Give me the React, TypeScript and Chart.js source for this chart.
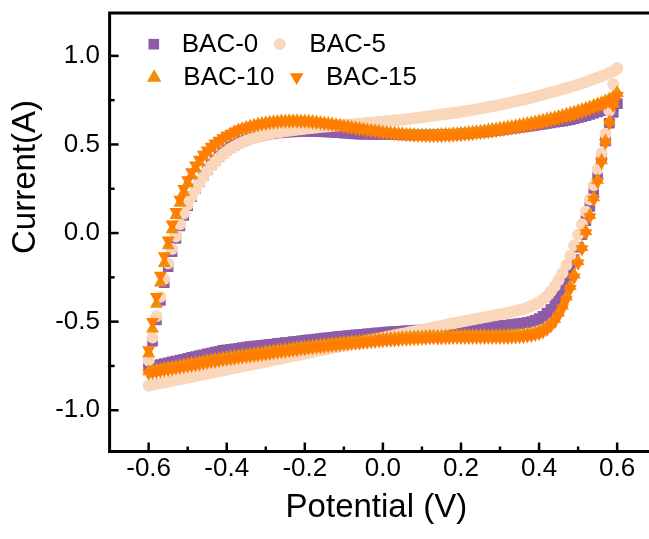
import React, { useEffect, useRef } from 'react';
import { Chart, registerables } from 'chart.js';

Chart.register(...registerables);

// Potential grid (V), forward sweep order: -0.60 ... 0.60 in 0.01 V steps
const POTENTIAL = [
  -0.60, -0.59, -0.58, -0.57, -0.56, -0.55, -0.54, -0.53, -0.52, -0.51,
  -0.50, -0.49, -0.48, -0.47, -0.46, -0.45, -0.44, -0.43, -0.42, -0.41,
  -0.40, -0.39, -0.38, -0.37, -0.36, -0.35, -0.34, -0.33, -0.32, -0.31,
  -0.30, -0.29, -0.28, -0.27, -0.26, -0.25, -0.24, -0.23, -0.22, -0.21,
  -0.20, -0.19, -0.18, -0.17, -0.16, -0.15, -0.14, -0.13, -0.12, -0.11,
  -0.10, -0.09, -0.08, -0.07, -0.06, -0.05, -0.04, -0.03, -0.02, -0.01,
  0.00, 0.01, 0.02, 0.03, 0.04, 0.05, 0.06, 0.07, 0.08, 0.09,
  0.10, 0.11, 0.12, 0.13, 0.14, 0.15, 0.16, 0.17, 0.18, 0.19,
  0.20, 0.21, 0.22, 0.23, 0.24, 0.25, 0.26, 0.27, 0.28, 0.29,
  0.30, 0.31, 0.32, 0.33, 0.34, 0.35, 0.36, 0.37, 0.38, 0.39,
  0.40, 0.41, 0.42, 0.43, 0.44, 0.45, 0.46, 0.47, 0.48, 0.49,
  0.50, 0.51, 0.52, 0.53, 0.54, 0.55, 0.56, 0.57, 0.58, 0.59,
  0.60,
];

// Current (A). *_FWD follows POTENTIAL ascending; *_REV runs from +0.60 V back to -0.60 V.
const BAC0_FWD = [
  -0.73, -0.61, -0.49, -0.38, -0.28, -0.19, -0.105, -0.03, 0.04, 0.10,
  0.155, 0.205, 0.25, 0.29, 0.326, 0.358, 0.386, 0.411, 0.433, 0.452,
  0.469, 0.484, 0.497, 0.508, 0.518, 0.526, 0.534, 0.540, 0.546, 0.551,
  0.555, 0.559, 0.562, 0.565, 0.567, 0.569, 0.570, 0.571, 0.572, 0.573,
  0.573, 0.573, 0.573, 0.573, 0.572, 0.571, 0.570, 0.569, 0.567, 0.566,
  0.564, 0.563, 0.561, 0.560, 0.558, 0.558, 0.558, 0.558, 0.557, 0.557,
  0.556, 0.556, 0.555, 0.555, 0.555, 0.554, 0.554, 0.554, 0.553, 0.553,
  0.553, 0.553, 0.553, 0.553, 0.554, 0.554, 0.555, 0.556, 0.557, 0.558,
  0.560, 0.561, 0.563, 0.565, 0.567, 0.569, 0.571, 0.573, 0.576, 0.578,
  0.581, 0.584, 0.587, 0.590, 0.593, 0.596, 0.599, 0.602, 0.605, 0.608,
  0.612, 0.615, 0.618, 0.621, 0.625, 0.628, 0.632, 0.636, 0.640, 0.645,
  0.651, 0.657, 0.663, 0.669, 0.676, 0.683, 0.69, 0.698, 0.706, 0.715,
  0.73,
];
const BAC0_REV = [
  0.73, 0.68, 0.62, 0.52, 0.42, 0.33, 0.24, 0.15, 0.07, -0.01,
  -0.08, -0.15, -0.21, -0.27, -0.32, -0.365, -0.40, -0.43, -0.452, -0.47,
  -0.483, -0.492, -0.499, -0.504, -0.508, -0.511, -0.514, -0.517, -0.519, -0.521,
  -0.523, -0.525, -0.527, -0.529, -0.530, -0.532, -0.533, -0.534, -0.535, -0.536,
  -0.537, -0.538, -0.539, -0.540, -0.541, -0.542, -0.543, -0.544, -0.545, -0.546,
  -0.547, -0.548, -0.549, -0.550, -0.552, -0.553, -0.555, -0.556, -0.558, -0.559,
  -0.561, -0.563, -0.565, -0.567, -0.569, -0.571, -0.573, -0.575, -0.577, -0.579,
  -0.581, -0.583, -0.586, -0.588, -0.591, -0.593, -0.596, -0.598, -0.601, -0.603,
  -0.606, -0.608, -0.611, -0.613, -0.616, -0.618, -0.621, -0.623, -0.626, -0.628,
  -0.631, -0.633, -0.636, -0.638, -0.641, -0.644, -0.647, -0.650, -0.653, -0.656,
  -0.659, -0.662, -0.667, -0.672, -0.677, -0.682, -0.687, -0.692, -0.697, -0.702,
  -0.707, -0.712, -0.717, -0.722, -0.727, -0.732, -0.737, -0.742, -0.747, -0.752,
  -0.757,
];

const BAC5_FWD = [
  -0.72, -0.59, -0.47, -0.36, -0.26, -0.17, -0.09, -0.02, 0.05, 0.11,
  0.16, 0.205, 0.245, 0.283, 0.318, 0.35, 0.378, 0.403, 0.425, 0.445,
  0.462, 0.477, 0.490, 0.502, 0.512, 0.521, 0.530, 0.537, 0.544, 0.550,
  0.555, 0.560, 0.564, 0.568, 0.571, 0.574, 0.577, 0.580, 0.583, 0.586,
  0.588, 0.591, 0.593, 0.596, 0.598, 0.600, 0.602, 0.604, 0.606, 0.608,
  0.610, 0.612, 0.614, 0.616, 0.618, 0.620, 0.622, 0.624, 0.626, 0.628,
  0.630, 0.632, 0.634, 0.636, 0.638, 0.640, 0.643, 0.645, 0.648, 0.651,
  0.654, 0.657, 0.660, 0.663, 0.666, 0.669, 0.672, 0.675, 0.678, 0.681,
  0.685, 0.688, 0.692, 0.695, 0.699, 0.703, 0.707, 0.711, 0.715, 0.719,
  0.724, 0.728, 0.733, 0.738, 0.743, 0.748, 0.753, 0.758, 0.764, 0.769,
  0.775, 0.781, 0.787, 0.793, 0.799, 0.805, 0.811, 0.818, 0.825, 0.832,
  0.839, 0.846, 0.853, 0.861, 0.869, 0.877, 0.885, 0.894, 0.903, 0.913,
  0.93,
];
const BAC5_REV = [
  0.93, 0.84, 0.69, 0.56, 0.45, 0.36, 0.27, 0.19, 0.12, 0.05,
  -0.01, -0.07, -0.13, -0.18, -0.225, -0.265, -0.30, -0.33, -0.355, -0.375,
  -0.39, -0.402, -0.412, -0.420, -0.428, -0.434, -0.440, -0.445, -0.450, -0.455,
  -0.459, -0.463, -0.467, -0.471, -0.475, -0.480, -0.484, -0.488, -0.492, -0.497,
  -0.501, -0.505, -0.510, -0.514, -0.519, -0.523, -0.528, -0.532, -0.537, -0.541,
  -0.546, -0.550, -0.555, -0.559, -0.564, -0.568, -0.573, -0.577, -0.582, -0.586,
  -0.591, -0.595, -0.600, -0.604, -0.609, -0.613, -0.618, -0.622, -0.627, -0.631,
  -0.636, -0.640, -0.645, -0.649, -0.654, -0.658, -0.663, -0.667, -0.672, -0.676,
  -0.681, -0.685, -0.690, -0.694, -0.699, -0.703, -0.708, -0.712, -0.717, -0.721,
  -0.726, -0.730, -0.735, -0.739, -0.744, -0.748, -0.753, -0.757, -0.762, -0.766,
  -0.771, -0.776, -0.78, -0.785, -0.789, -0.794, -0.798, -0.803, -0.807, -0.812,
  -0.816, -0.821, -0.825, -0.83, -0.834, -0.839, -0.843, -0.848, -0.852, -0.857,
  -0.862,
];

const BAC10_FWD = [
  -0.68, -0.54, -0.40, -0.28, -0.17, -0.07, 0.02, 0.10, 0.17, 0.23,
  0.28, 0.325, 0.365, 0.40, 0.43, 0.455, 0.478, 0.498, 0.515, 0.533,
  0.547, 0.560, 0.572, 0.581, 0.589, 0.596, 0.603, 0.609, 0.614, 0.618,
  0.622, 0.625, 0.628, 0.630, 0.632, 0.633, 0.634, 0.634, 0.634, 0.633,
  0.632, 0.631, 0.629, 0.627, 0.624, 0.621, 0.618, 0.615, 0.611, 0.608,
  0.604, 0.601, 0.597, 0.594, 0.590, 0.587, 0.583, 0.580, 0.577, 0.574,
  0.571, 0.568, 0.566, 0.564, 0.562, 0.560, 0.558, 0.557, 0.556, 0.555,
  0.554, 0.554, 0.554, 0.554, 0.555, 0.556, 0.557, 0.558, 0.560, 0.561,
  0.563, 0.565, 0.567, 0.570, 0.572, 0.575, 0.578, 0.581, 0.584, 0.587,
  0.591, 0.594, 0.598, 0.602, 0.606, 0.610, 0.614, 0.618, 0.623, 0.627,
  0.632, 0.637, 0.642, 0.647, 0.652, 0.658, 0.664, 0.67, 0.676, 0.683,
  0.69, 0.697, 0.704, 0.712, 0.72, 0.728, 0.737, 0.746, 0.756, 0.768,
  0.79,
];
const BAC10_REV = [
  0.79, 0.73, 0.63, 0.52, 0.41, 0.30, 0.20, 0.10, 0.01, -0.08,
  -0.16, -0.235, -0.30, -0.36, -0.41, -0.45, -0.485, -0.51, -0.53, -0.544,
  -0.554, -0.561, -0.566, -0.569, -0.572, -0.574, -0.575, -0.576, -0.577, -0.578,
  -0.578, -0.578, -0.579, -0.579, -0.579, -0.579, -0.579, -0.579, -0.579, -0.579,
  -0.579, -0.580, -0.580, -0.581, -0.581, -0.582, -0.582, -0.583, -0.583, -0.584,
  -0.585, -0.586, -0.587, -0.588, -0.589, -0.590, -0.592, -0.593, -0.595, -0.596,
  -0.598, -0.600, -0.602, -0.604, -0.606, -0.608, -0.610, -0.612, -0.614, -0.616,
  -0.618, -0.620, -0.623, -0.625, -0.628, -0.630, -0.633, -0.635, -0.638, -0.640,
  -0.643, -0.645, -0.648, -0.651, -0.654, -0.657, -0.660, -0.663, -0.666, -0.669,
  -0.672, -0.675, -0.678, -0.681, -0.684, -0.687, -0.690, -0.693, -0.696, -0.699,
  -0.702, -0.705, -0.709, -0.713, -0.717, -0.721, -0.725, -0.729, -0.733, -0.737,
  -0.741, -0.745, -0.749, -0.753, -0.757, -0.761, -0.765, -0.769, -0.773, -0.777,
  -0.781,
];

const BAC15_FWD = [
  -0.66, -0.50, -0.36, -0.24, -0.13, -0.04, 0.05, 0.12, 0.19, 0.25,
  0.30, 0.345, 0.383, 0.415, 0.443, 0.467, 0.488, 0.507, 0.523, 0.537,
  0.55, 0.561, 0.571, 0.580, 0.588, 0.595, 0.601, 0.606, 0.611, 0.615,
  0.619, 0.622, 0.625, 0.627, 0.629, 0.630, 0.631, 0.631, 0.631, 0.630,
  0.629, 0.628, 0.626, 0.624, 0.621, 0.618, 0.615, 0.612, 0.608, 0.605,
  0.601, 0.598, 0.594, 0.591, 0.587, 0.584, 0.580, 0.577, 0.574, 0.571,
  0.568, 0.565, 0.563, 0.561, 0.559, 0.557, 0.555, 0.553, 0.552, 0.551,
  0.550, 0.549, 0.549, 0.549, 0.549, 0.549, 0.550, 0.551, 0.552, 0.553,
  0.555, 0.557, 0.559, 0.561, 0.564, 0.566, 0.569, 0.572, 0.575, 0.578,
  0.581, 0.584, 0.588, 0.591, 0.595, 0.599, 0.603, 0.607, 0.611, 0.615,
  0.62, 0.625, 0.63, 0.635, 0.64, 0.646, 0.652, 0.658, 0.664, 0.671,
  0.678, 0.685, 0.692, 0.70, 0.708, 0.716, 0.725, 0.734, 0.744, 0.756,
  0.775,
];
const BAC15_REV = [
  0.775, 0.72, 0.62, 0.51, 0.40, 0.29, 0.19, 0.09, 0.0, -0.09,
  -0.17, -0.25, -0.315, -0.375, -0.425, -0.465, -0.50, -0.525, -0.545, -0.558,
  -0.567, -0.573, -0.578, -0.581, -0.584, -0.586, -0.587, -0.588, -0.589, -0.590,
  -0.590, -0.590, -0.590, -0.590, -0.590, -0.590, -0.590, -0.590, -0.590, -0.590,
  -0.590, -0.590, -0.590, -0.591, -0.591, -0.592, -0.592, -0.593, -0.593, -0.594,
  -0.595, -0.596, -0.597, -0.598, -0.599, -0.600, -0.602, -0.603, -0.605, -0.606,
  -0.608, -0.610, -0.612, -0.614, -0.616, -0.618, -0.620, -0.622, -0.624, -0.626,
  -0.628, -0.630, -0.633, -0.635, -0.638, -0.640, -0.643, -0.645, -0.648, -0.650,
  -0.653, -0.655, -0.658, -0.661, -0.664, -0.667, -0.670, -0.673, -0.676, -0.679,
  -0.682, -0.685, -0.688, -0.691, -0.694, -0.697, -0.700, -0.703, -0.706, -0.709,
  -0.712, -0.715, -0.719, -0.723, -0.727, -0.731, -0.735, -0.739, -0.743, -0.747,
  -0.751, -0.755, -0.759, -0.763, -0.767, -0.771, -0.775, -0.779, -0.783, -0.787,
  -0.791,
];

const SERIES_LABELS = ['BAC-0', 'BAC-5', 'BAC-10', 'BAC-15'];
const SERIES_COLORS = ['#8E5BA8', '#FAD6BA', '#F28C0A', '#FF7D00'];
const X_TICKS = [-0.6, -0.4, -0.2, 0.0, 0.2, 0.4, 0.6];
const X_MINOR = [-0.5, -0.3, -0.1, 0.1, 0.3, 0.5];
const Y_TICKS = [-1.0, -0.5, 0.0, 0.5, 1.0];
const Y_MINOR = [-0.75, -0.25, 0.25, 0.75];
const X_TITLE = 'Potential (V)';
const Y_TITLE = 'Current(A)';

const FONT = '"Liberation Sans", Arial, Helvetica, sans-serif';

function loop(fwd: number[], rev: number[]) {
  const back = [...POTENTIAL].reverse();
  return [
    ...fwd.map((y, i) => ({ x: POTENTIAL[i], y })),
    ...rev.map((y, i) => ({ x: back[i], y })),
  ];
}

function drawMarker(ctx: CanvasRenderingContext2D, kind: string, x: number, y: number, r: number, color: string) {
  ctx.fillStyle = color;
  ctx.beginPath();
  if (kind === 'rect') {
    const s = r * Math.SQRT1_2;
    ctx.rect(x - s, y - s, 2 * s, 2 * s);
  } else if (kind === 'circle') {
    ctx.arc(x, y, r, 0, Math.PI * 2);
  } else {
    const sgn = kind === 'down' ? -1 : 1;
    ctx.moveTo(x, y - sgn * r);
    ctx.lineTo(x + r * Math.sin((2 * Math.PI) / 3), y + (sgn * r) / 2);
    ctx.lineTo(x - r * Math.sin((2 * Math.PI) / 3), y + (sgn * r) / 2);
    ctx.closePath();
  }
  ctx.fill();
}

const decorPlugin = {
  id: 'decor',
  afterDatasetsDraw(chart: any) {
    const { ctx, chartArea: a, scales } = chart;
    const xs = scales.x;
    const ys = scales.y;
    ctx.save();
    // frame
    ctx.strokeStyle = '#000';
    ctx.lineWidth = 3;
    ctx.strokeRect(a.left, a.top, a.right - a.left, a.bottom - a.top);
    // inward ticks
    ctx.lineWidth = 2.5;
    const seg = (x1: number, y1: number, x2: number, y2: number) => {
      ctx.beginPath();
      ctx.moveTo(x1, y1);
      ctx.lineTo(x2, y2);
      ctx.stroke();
    };
    X_TICKS.forEach((v) => { const p = xs.getPixelForValue(v); seg(p, a.bottom, p, a.bottom - 9); });
    X_MINOR.forEach((v) => { const p = xs.getPixelForValue(v); seg(p, a.bottom, p, a.bottom - 5); });
    Y_TICKS.forEach((v) => { const p = ys.getPixelForValue(v); seg(a.left, p, a.left + 9, p); });
    Y_MINOR.forEach((v) => { const p = ys.getPixelForValue(v); seg(a.left, p, a.left + 5, p); });

    // axis titles
    ctx.fillStyle = '#000';
    ctx.font = `33px ${FONT}`;
    ctx.textAlign = 'center';
    ctx.textBaseline = 'alphabetic';
    ctx.fillText(X_TITLE, (a.left + a.right) / 2 - 6.5, a.bottom + 65.5);
    ctx.save();
    ctx.translate(a.left - 74.6, a.top + 164);
    ctx.rotate(-Math.PI / 2);
    ctx.fillText(Y_TITLE, 0, 0);
    ctx.restore();

    // legend
    const lx = a.left;
    const ly = a.top;
    drawMarker(ctx, 'rect', lx + 44.2, ly + 31.2, 7.5, SERIES_COLORS[0]);
    drawMarker(ctx, 'circle', lx + 170.2, ly + 31.2, 5.9, SERIES_COLORS[1]);
    drawMarker(ctx, 'up', lx + 44.6, ly + 64.6, 8.3, SERIES_COLORS[2]);
    drawMarker(ctx, 'down', lx + 187.1, ly + 64.2, 7.8, SERIES_COLORS[3]);
    ctx.fillStyle = '#000';
    ctx.font = `26px ${FONT}`;
    ctx.textAlign = 'left';
    ctx.fillText(SERIES_LABELS[0], lx + 72.1, ly + 38.7);
    ctx.fillText(SERIES_LABELS[1], lx + 199.7, ly + 38.7);
    ctx.fillText(SERIES_LABELS[2], lx + 73.7, ly + 72);
    ctx.fillText(SERIES_LABELS[3], lx + 216.4, ly + 72);
    ctx.restore();
  },
};

export default function App() {
  const ref = useRef<HTMLCanvasElement>(null);
  useEffect(() => {
    if (!ref.current) return;
    const styles = [
      { style: 'rect', radius: 7.5, rotation: 0, order: 4 },
      { style: 'circle', radius: 6, rotation: 0, order: 3 },
      { style: 'triangle', radius: 7.5, rotation: 0, order: 2 },
      { style: 'triangle', radius: 7.5, rotation: 180, order: 1 },
    ];
    const loops = [
      loop(BAC0_FWD, BAC0_REV),
      loop(BAC5_FWD, BAC5_REV),
      loop(BAC10_FWD, BAC10_REV),
      loop(BAC15_FWD, BAC15_REV),
    ];
    const chart = new Chart(ref.current, {
      type: 'scatter',
      data: {
        datasets: loops.map((d, i) => ({
          label: SERIES_LABELS[i],
          data: d,
          showLine: false,
          order: styles[i].order,
          pointStyle: styles[i].style as any,
          pointRadius: styles[i].radius,
          pointRotation: styles[i].rotation,
          pointBackgroundColor: SERIES_COLORS[i],
          pointBorderWidth: 0,
          pointBorderColor: SERIES_COLORS[i],
          backgroundColor: SERIES_COLORS[i],
          borderColor: SERIES_COLORS[i],
        })),
      },
      options: {
        animation: false,
        responsive: false,
        devicePixelRatio: 1,
        events: [],
        layout: { padding: { left: 0, top: 13, right: 13.8, bottom: 0 } },
        plugins: { legend: { display: false }, tooltip: { enabled: false } },
        scales: {
          x: {
            type: 'linear',
            position: 'bottom',
            min: -0.7,
            max: 0.7,
            grid: { display: false, drawTicks: false },
            border: { display: false },
            afterBuildTicks: (s: any) => { s.ticks = X_TICKS.map((v) => ({ value: v })); },
            afterFit: (s: any) => { s.height = 87.5; s.paddingLeft = 0; s.paddingRight = 0; },
            ticks: {
              padding: 2,
              color: '#000',
              autoSkip: false,
              maxRotation: 0,
              font: { family: FONT, size: 26 },
              callback: (v: any) => Number(v).toFixed(1),
            },
          },
          y: {
            type: 'linear',
            position: 'left',
            min: -1.233,
            max: 1.242,
            grid: { display: false, drawTicks: false },
            border: { display: false },
            afterBuildTicks: (s: any) => { s.ticks = Y_TICKS.map((v) => ({ value: v })); },
            afterFit: (s: any) => { s.width = 109.6; s.paddingTop = 0; s.paddingBottom = 0; },
            ticks: {
              padding: 9.6,
              color: '#000',
              autoSkip: false,
              font: { family: FONT, size: 26 },
              callback: (v: any) => Number(v).toFixed(1),
            },
          },
        },
      },
      plugins: [decorPlugin],
    } as any);
    return () => chart.destroy();
  }, []);
  return (
    <div style={{ position: 'fixed', left: 0, top: 0, width: 649, height: 539, overflow: 'hidden', background: '#fff' }}>
      <canvas ref={ref} width={670} height={539} style={{ display: 'block', width: 670, height: 539 }} />
    </div>
  );
}
